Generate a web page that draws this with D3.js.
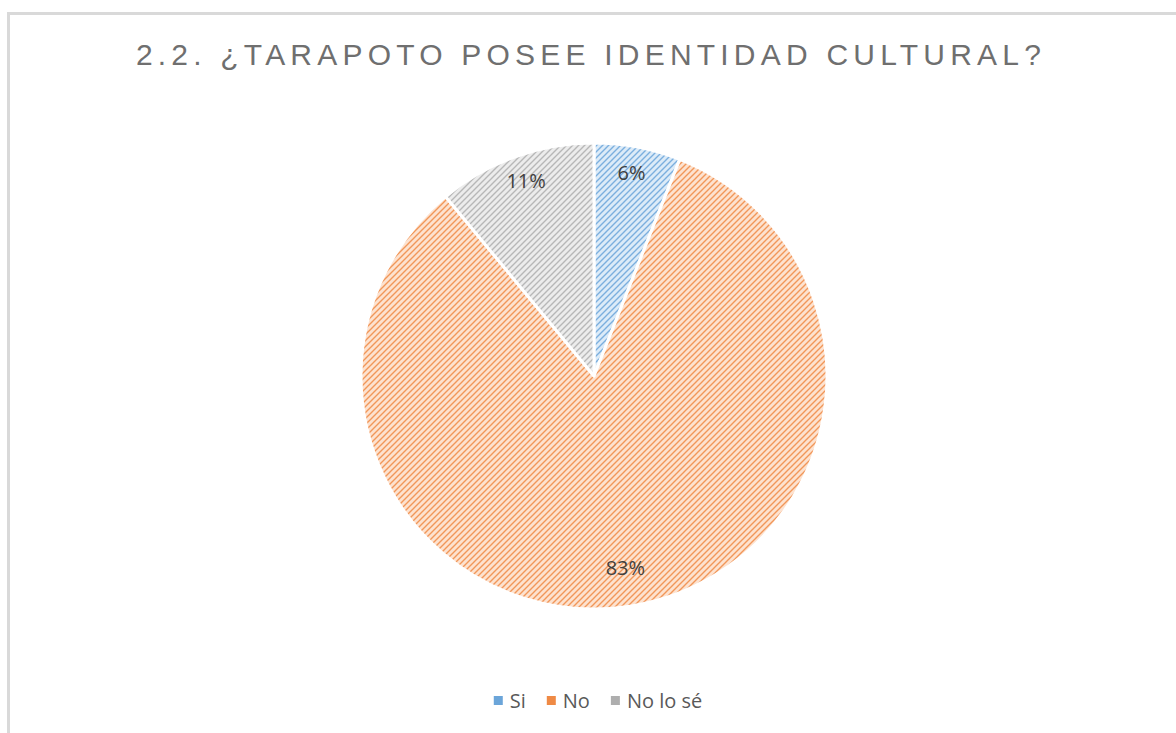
<!DOCTYPE html>
<html><head><meta charset="utf-8">
<script src="https://cdn.jsdelivr.net/npm/d3@7"></script>
<style>
html,body{margin:0;padding:0;background:#fff;}
svg{display:block;}
</style></head>
<body>
<svg id="chart" width="1176" height="733"></svg>
<script>
const title = "2.2. ¿TARAPOTO POSEE IDENTIDAD CULTURAL?";
const categories = ["Si", "No", "No lo sé"];
const values = [6, 83, 11];
const labels = ["6%", "83%", "11%"];
const fgColors = ["#5b9bd5", "#ed7d31", "#a5a5a5"];
const bgColors = ["#dcebf8", "#fde2cf", "#ececec"];

const svg = d3.select("#chart");
const W = 1176, H = 733;
svg.append("rect").attr("x", 0).attr("y", 0).attr("width", W).attr("height", H).attr("fill", "#fff");

// border (top and left visible)
svg.append("path").attr("d", `M8.5,${H} L8.5,13.5 L${W},13.5`)
  .attr("fill", "none").attr("stroke", "#d9d9d9").attr("stroke-width", 3);

// patterns: upward diagonal stripes
const defs = svg.append("defs");
categories.forEach((c, i) => {
  const p = defs.append("pattern").attr("id", "pat" + i)
    .attr("patternUnits", "userSpaceOnUse").attr("width", 6).attr("height", 6);
  p.append("rect").attr("width", 6).attr("height", 6).attr("fill", bgColors[i]);
  p.append("path").attr("d", "M-1,7 L7,-1 M-4,4 L4,-4 M2,10 L10,2")
    .attr("stroke", fgColors[i]).attr("stroke-width", 1.4)
    .attr("stroke-opacity", 0.75).attr("fill", "none");
});

// title
const t = svg.append("text").attr("x", 591).attr("y", 65).attr("text-anchor", "middle")
  .attr("font-family", "Liberation Sans, Arial, sans-serif").attr("font-size", 30)
  .attr("fill", "#6f6f6f").text(title);
const natural = t.node().getComputedTextLength();
const target = 905;
const ls = (target - natural) / (title.length - 1);
t.attr("letter-spacing", ls);

// pie
const cx = 594, cy = 376, R = 233;
const pie = d3.pie().sort(null).value(d => d)(values);
const arc = d3.arc().innerRadius(0).outerRadius(R);
const g = svg.append("g").attr("transform", `translate(${cx},${cy})`);
g.selectAll("path.slice").data(pie).enter().append("path").attr("class", "slice")
  .attr("d", arc).attr("fill", (d, i) => `url(#pat${i})`)
  .attr("stroke", "#fff").attr("stroke-width", 3).attr("stroke-linejoin", "round");

const labelArc = d3.arc().innerRadius(R * 0.86).outerRadius(R * 0.86);
g.selectAll("text.lbl").data(pie).enter().append("text").attr("class", "lbl")
  .attr("transform", d => { const c = labelArc.centroid(d); return `translate(${c[0]},${c[1] - 6})`; })
  .attr("text-anchor", "middle").attr("dy", "0.35em")
  .attr("font-family", "Open Sans, Liberation Sans, sans-serif").attr("font-size", 20)
  .attr("fill", "#404040").text((d, i) => labels[i]);

// legend
const legend = svg.append("g").attr("transform", "translate(0,701)");
const items = legend.selectAll("g").data(categories).enter().append("g");
items.append("rect").attr("width", 9).attr("height", 9).attr("y", -5)
  .attr("fill", (d, i) => fgColors[i]).attr("opacity", 0.9);
items.append("text").attr("x", 16).attr("dy", "0.35em")
  .attr("font-family", "Open Sans, Liberation Sans, sans-serif").attr("font-size", 20)
  .attr("fill", "#595959").text(d => d);
let x = 0; const gap = 21; const widths = [];
items.each(function () { const w = 16 + d3.select(this).select("text").node().getComputedTextLength(); widths.push(w); });
const total = d3.sum(widths) + gap * (widths.length - 1);
x = 598 - total / 2;
items.attr("transform", (d, i) => { const tx = x; x += widths[i] + gap; return `translate(${tx},0)`; });
</script>
</body></html>
